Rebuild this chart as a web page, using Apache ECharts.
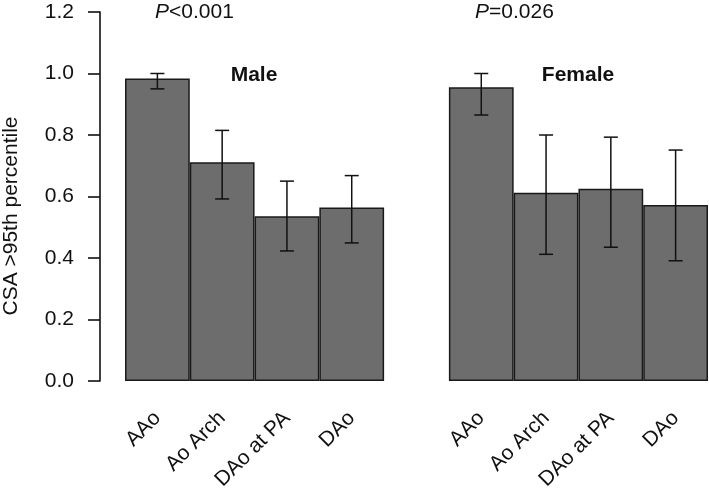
<!DOCTYPE html>
<html><head><meta charset="utf-8">
<script src="https://cdn.jsdelivr.net/npm/echarts@6/dist/echarts.min.js"></script>
<style>html,body{margin:0;padding:0;background:#fff}#c{width:709px;height:494px}</style>
</head><body><div id="c"></div>
<script>
const categories = ['AAo','Ao Arch','DAo at PA','DAo','','AAo','Ao Arch','DAo at PA','DAo'];
const values = [0.984, 0.711, 0.536, 0.564, null, 0.955, 0.612, 0.625, 0.572];
const errLow = [0.95, 0.592, 0.423, 0.449, null, 0.865, 0.412, 0.435, 0.391];
const errHigh = [1.0, 0.815, 0.650, 0.668, null, 1.0, 0.800, 0.793, 0.751];
const yTicks = [0, 0.2, 0.4, 0.6, 0.8, 1.0, 1.2];
const yTitle = 'CSA >95th percentile';

const errData = [];
categories.forEach((c, i) => { if (values[i] != null) errData.push([i, errLow[i], errHigh[i]]); });

const chart = echarts.init(document.getElementById('c'));
const font = 'Liberation Sans, Arial, sans-serif';
const fs = 21;
chart.setOption({
  animation: false,
  grid: { left: 125, right: 1, top: 12, bottom: 113, outerBoundsMode: 'none', containLabel: false },
  xAxis: {
    type: 'category', data: categories,
    axisLine: { show: false }, axisTick: { show: false },
    axisLabel: { rotate: 45, interval: 0, margin: 34, fontSize: fs, color: '#111', fontFamily: font }
  },
  yAxis: {
    type: 'value', min: yTicks[0], max: yTicks[yTicks.length - 1], interval: 0.2,
    offset: 25,
    axisLine: { show: true, lineStyle: { color: '#111', width: 1.6 } },
    axisTick: { show: true, length: 12, lineStyle: { color: '#111', width: 1.6 } },
    axisLabel: { margin: 26, fontSize: fs, color: '#111', fontFamily: font, formatter: v => v.toFixed(1) },
    splitLine: { show: false }
  },
  series: [
    { type: 'bar', data: values, barCategoryGap: 0,
      itemStyle: { color: '#6d6d6d', borderColor: '#1a1a1a', borderWidth: 1.5 } },
    { type: 'custom', data: errData, z: 5,
      renderItem: function (params, api) {
        const x = api.value(0);
        const lo = api.coord([x, api.value(1)]);
        const hi = api.coord([x, api.value(2)]);
        const w = 7;
        const st = { stroke: '#111', lineWidth: 1.5 };
        return { type: 'group', children: [
          { type: 'line', shape: { x1: hi[0], y1: hi[1], x2: lo[0], y2: lo[1] }, style: st },
          { type: 'line', shape: { x1: hi[0] - w, y1: hi[1], x2: hi[0] + w, y2: hi[1] }, style: st },
          { type: 'line', shape: { x1: lo[0] - w, y1: lo[1], x2: lo[0] + w, y2: lo[1] }, style: st }
        ]};
      }
    }
  ],
  graphic: [
    { type: 'text', x: 11, y: 216, rotation: Math.PI / 2, style: { text: yTitle, align: 'center', verticalAlign: 'middle', fontSize: fs, fontFamily: font, fill: '#111' } },
    { type: 'text', x: 155, y: 12, style: { verticalAlign: 'middle', rich: { i: { fontStyle: 'italic', fontSize: fs, fontFamily: font, fill: '#111' }, n: { fontSize: fs, fontFamily: font, fill: '#111' } }, text: '{i|P}{n|<0.001}' } },
    { type: 'text', x: 475, y: 12, style: { verticalAlign: 'middle', rich: { i: { fontStyle: 'italic', fontSize: fs, fontFamily: font, fill: '#111' }, n: { fontSize: fs, fontFamily: font, fill: '#111' } }, text: '{i|P}{n|=0.026}' } },
    { type: 'text', x: 254, y: 75, style: { text: 'Male', align: 'center', verticalAlign: 'middle', fontSize: fs, fontWeight: 'bold', fontFamily: font, fill: '#111' } },
    { type: 'text', x: 578, y: 75, style: { text: 'Female', align: 'center', verticalAlign: 'middle', fontSize: fs, fontWeight: 'bold', fontFamily: font, fill: '#111' } }
  ]
});
</script></body></html>
